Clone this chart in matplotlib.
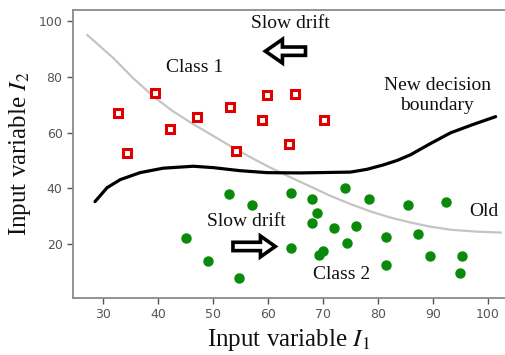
import matplotlib
matplotlib.use("Agg")
import matplotlib.pyplot as plt
from matplotlib.patches import FancyArrow

# class 1 samples (red squares)
c1_x = [32.7, 34.3, 39.4, 42.2, 47.1, 53.1, 54.2, 58.9, 59.8, 64.9, 63.8, 70.2]
c1_y = [67.1, 52.7, 74.3, 61.3, 65.6, 69.2, 53.5, 64.6, 73.5, 73.9, 56.0, 64.6]

# class 2 samples (green dots)
c2_x = [45.1, 49.1, 54.7, 52.9, 57.1, 64.2, 68.0, 68.9, 67.9, 64.2, 69.3, 70.0,
        72.0, 73.9, 74.4, 76.0, 78.4, 81.5, 81.5, 85.5, 87.3, 92.3, 89.5, 95.2, 95.0]
c2_y = [22.3, 13.7, 7.9, 38.1, 34.1, 38.4, 36.3, 31.2, 27.7, 18.7, 16.2, 17.6,
        25.9, 40.2, 20.5, 26.6, 36.3, 22.5, 12.6, 34.0, 23.6, 35.1, 15.5, 15.5, 9.7]

# old decision boundary (grey)
old_x = [27.1, 31.8, 35.4, 39.1, 42.7, 46.4, 50.0, 53.6, 57.3, 60.4, 64.0, 67.7,
         71.3, 75.0, 78.6, 82.2, 85.9, 89.5, 93.2, 98.1, 102.3]
old_y = [95.0, 86.8, 79.6, 73.0, 67.6, 63.0, 58.8, 54.6, 50.6, 47.4, 44.0, 40.6,
         37.3, 34.3, 31.7, 29.5, 27.7, 26.2, 25.1, 24.4, 24.1]

# new decision boundary (black)
new_x = [28.5, 30.7, 33.1, 36.7, 40.9, 46.4, 50.0, 54.9, 59.8, 65.8, 75.0, 78.0,
         81.0, 83.5, 85.9, 89.5, 93.2, 97.3, 101.4]
new_y = [35.2, 40.2, 43.1, 45.6, 47.2, 47.9, 47.4, 46.3, 45.6, 45.5, 45.8, 46.8,
         48.4, 50.0, 52.0, 56.0, 59.9, 62.9, 65.7]

x_ticks = [30, 40, 50, 60, 70, 80, 90, 100]
y_ticks = [20, 40, 60, 80, 100]

plt.rcParams['mathtext.fontset'] = 'stix'
serif = 'Liberation Serif'
ink = '#111111'

fig = plt.figure(figsize=(5.05, 3.55), dpi=100)
ax = fig.add_axes([0.1446, 0.1606, 0.8554, 0.8113])

ax.plot(old_x, old_y, color='#c4c4c4', lw=1.6, zorder=1)
ax.plot(new_x, new_y, color='black', lw=2.3, zorder=2, solid_capstyle='round',
        solid_joinstyle='round')
ax.plot(c1_x, c1_y, 's', ms=6.3, mfc='white', mec='#e00000', mew=2.2, ls='none', zorder=3)
ax.plot(c2_x, c2_y, 'o', ms=6.5, color='#0a8a0a', ls='none', zorder=3)

# hollow drift arrows
ax.add_patch(FancyArrow(66.8, 89.2, -7.3, 0, width=3.0, head_width=8.5, head_length=3.1,
                        length_includes_head=True, fc='white', ec='black', lw=2.6, zorder=4))
ax.add_patch(FancyArrow(53.6, 19.1, 7.7, 0, width=3.0, head_width=7.5, head_length=2.7,
                        length_includes_head=True, fc='white', ec='black', lw=2.6, zorder=4))

ax.text(64.0, 99.3, 'Slow drift', family=serif, fontsize=14, color=ink, ha='center', va='center')
ax.text(46.7, 83.2, 'Class 1', family=serif, fontsize=14, color=ink, ha='center', va='center')
ax.text(90.8, 73.2, 'New decision\nboundary', family=serif, fontsize=14, color=ink,
        ha='center', va='center', linespacing=1.2)
ax.text(96.6, 31.6, 'Old', family=serif, fontsize=14, color=ink, ha='left', va='center')
ax.text(56.0, 28.0, 'Slow drift', family=serif, fontsize=14, color=ink, ha='center', va='center')
ax.text(73.3, 9.0, 'Class 2', family=serif, fontsize=14, color=ink, ha='center', va='center')

ax.set_xlim(24.5, 103.1)
ax.set_ylim(0.6, 104.0)
ax.set_xticks(x_ticks)
ax.set_yticks(y_ticks)
ax.tick_params(labelsize=9, colors='#555555', length=4, width=1)
ax.spines['right'].set_visible(False)
for s in ['left', 'bottom', 'top']:
    ax.spines[s].set_color('#8a8a8a')
    ax.spines[s].set_linewidth(1.3)

ax.set_xlabel(r'Input variable $I_1$', family=serif, fontsize=18, color=ink, labelpad=4)
ax.set_ylabel(r'Input variable $I_2$', family=serif, fontsize=18, color=ink, labelpad=4)

fig.savefig('out.png', dpi=100)
